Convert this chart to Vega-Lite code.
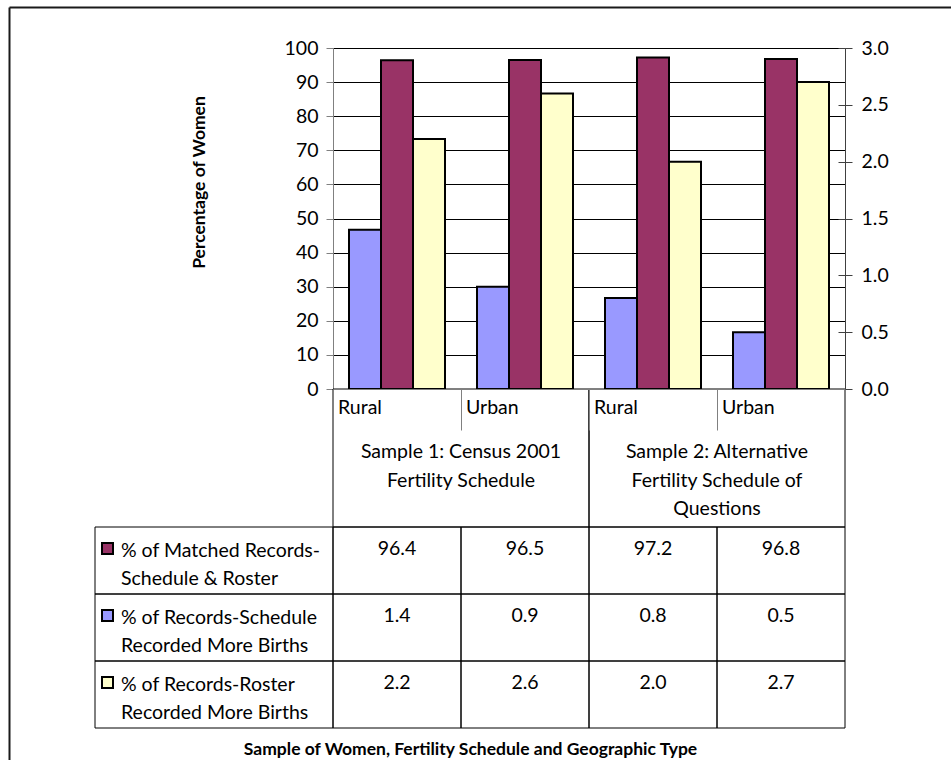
{
  "$schema": "https://vega.github.io/schema/vega-lite/v6.json",
  "autosize": {"type": "none"},
  "padding": {"left": 9, "top": 7, "right": 0, "bottom": 0},
  "width": 942,
  "height": 753,
  "background": "#ffffff",
  "config": {
    "view": {"stroke": null},
    "font": "Lato",
    "text": {"font": "Lato", "fontSize": 19.5, "color": "#000000"},
    "axis": {"labelFont": "Lato", "titleFont": "Lato", "labelColor": "#000000", "titleColor": "#000000", "labelFontSize": 19.5, "titleFontSize": 17.5}
  },
  "datasets": {
    "bars": [
      {"cat": "Rural S1", "series": "Matched", "value": 96.4},
      {"cat": "Urban S1", "series": "Matched", "value": 96.5},
      {"cat": "Rural S2", "series": "Matched", "value": 97.2},
      {"cat": "Urban S2", "series": "Matched", "value": 96.8},
      {"cat": "Rural S1", "series": "Schedule", "value": 1.4},
      {"cat": "Urban S1", "series": "Schedule", "value": 0.9},
      {"cat": "Rural S2", "series": "Schedule", "value": 0.8},
      {"cat": "Urban S2", "series": "Schedule", "value": 0.5},
      {"cat": "Rural S1", "series": "Roster", "value": 2.2},
      {"cat": "Urban S1", "series": "Roster", "value": 2.6},
      {"cat": "Rural S2", "series": "Roster", "value": 2.0},
      {"cat": "Urban S2", "series": "Roster", "value": 2.7}
    ],
    "groups": [
      {"group": "Sample 1", "label": "Sample 1: Census 2001|Fertility Schedule"},
      {"group": "Sample 2", "label": "Sample 2: Alternative|Fertility Schedule of|Questions"}
    ],
    "legend": [
      {"series": "Matched", "label": "% of Matched Records-|Schedule & Roster"},
      {"series": "Schedule", "label": "% of Records-Schedule|Recorded More Births"},
      {"series": "Roster", "label": "% of Records-Roster|Recorded More Births"}
    ],
    "frame": [{"part": "chart area"}]
  },
  "resolve": {
    "scale": {"x": "independent", "y": "independent", "color": "independent", "xOffset": "independent"},
    "axis": {"x": "independent", "y": "independent"}
  },
  "layer": [
    {
      "data": {"name": "frame"},
      "mark": {"type": "rect", "fill": "transparent", "strokeOpacity": 0},
      "encoding": {
        "x": {"datum": "all", "type": "nominal", "scale": {"domain": ["all"], "range": [0, 942], "paddingInner": 0, "paddingOuter": 0},
          "axis": {"orient": "top", "domain": true, "domainColor": "#1a1a1a", "domainWidth": 2, "ticks": false, "labels": false, "grid": false, "title": null}},
        "y": {"datum": "all", "type": "nominal", "scale": {"domain": ["all"], "range": [0, 753], "paddingInner": 0, "paddingOuter": 0},
          "axis": {"orient": "left", "domain": true, "domainColor": "#1a1a1a", "domainWidth": 2, "ticks": false, "labels": false, "grid": false, "title": null}}
      }
    },
    {
      "data": {"name": "bars"},
      "transform": [{"filter": "datum.series === 'Matched'"}],
      "mark": {"type": "bar", "fill": "#993366", "stroke": "#000000", "strokeWidth": 2},
      "encoding": {
        "x": {
          "field": "cat", "type": "nominal", "sort": null,
          "scale": {"domain": ["Rural S1", "Urban S1", "Rural S2", "Urban S2"], "range": [324, 836], "paddingInner": 0, "paddingOuter": 0},
          "axis": {"orient": "bottom", "offset": -371, "title": null, "bandPosition": 0, "tickSize": 41, "tickColor": "#808080", "domainColor": "#808080", "labelExpr": "slice(datum.label, 0, 5)", "labelAlign": "left", "labelBaseline": "top", "labelOffset": -59, "labelPadding": -32, "labelAngle": 0, "labelOverlap": false, "grid": false, "zindex": 1}
        },
        "xOffset": {"field": "series", "type": "nominal", "scale": {"domain": ["Schedule", "Matched", "Roster"], "paddingInner": 0, "paddingOuter": 0.5}},
        "y": {
          "field": "value", "type": "quantitative",
          "scale": {"domain": [0, 100], "range": [382, 41], "nice": false},
          "axis": {"orient": "left", "offset": -324, "values": [0, 10, 20, 30, 40, 50, 60, 70, 80, 90, 100], "tickSize": 7, "tickColor": "#808080", "domainColor": "#808080", "labelPadding": 8, "grid": true, "gridColor": "#000000", "gridOpacity": 1, "gridWidth": 1, "title": "Percentage of Women", "titleFontWeight": "bold", "titleX": -134, "titleY": 175, "titleAngle": -90, "titleAlign": "center", "titleBaseline": "middle"}
        }
      }
    },
    {
      "data": {"name": "bars"},
      "transform": [{"filter": "datum.series !== 'Matched'"}],
      "mark": {"type": "bar", "stroke": "#000000", "strokeWidth": 2},
      "encoding": {
        "x": {
          "field": "cat", "type": "nominal", "sort": null,
          "scale": {"domain": ["Rural S1", "Urban S1", "Rural S2", "Urban S2"], "range": [324, 836], "paddingInner": 0, "paddingOuter": 0},
          "axis": null
        },
        "xOffset": {"field": "series", "type": "nominal", "scale": {"domain": ["Schedule", "Matched", "Roster"], "paddingInner": 0, "paddingOuter": 0.5}},
        "y": {
          "field": "value", "type": "quantitative",
          "scale": {"domain": [0, 3], "range": [382, 41], "nice": false},
          "axis": {"orient": "right", "offset": -106, "values": [0, 0.5, 1, 1.5, 2, 2.5, 3], "format": ".1f", "tickSize": 7, "tickColor": "#404040", "domainColor": "#404040", "labelPadding": 9, "grid": false, "title": null}
        },
        "color": {"field": "series", "type": "nominal", "scale": {"domain": ["Schedule", "Roster"], "range": ["#9999FF", "#FFFFCC"]}, "legend": null}
      }
    },
    {
      "data": {"name": "bars"},
      "transform": [{"filter": "datum.series !== 'Matched'"}],
      "mark": {"type": "bar", "opacity": 0},
      "encoding": {
        "x": {
          "field": "cat", "type": "nominal", "sort": null,
          "scale": {"domain": ["Rural S1", "Urban S1", "Rural S2", "Urban S2"], "range": [324, 836], "paddingInner": 0, "paddingOuter": 0},
          "axis": null
        },
        "y": {
          "field": "value", "type": "quantitative",
          "scale": {"domain": [0, 3], "range": [382, 41], "nice": false},
          "axis": {"orient": "right", "offset": -113, "values": [0, 0.5, 1, 1.5, 2, 2.5, 3], "tickSize": 7, "tickColor": "#404040", "domain": false, "labels": false, "grid": false, "title": null}
        }
      }
    },
    {
      "data": {"name": "groups"},
      "mark": {"type": "rect", "fill": "transparent", "stroke": "#000000", "strokeWidth": 1},
      "encoding": {
        "x": {"field": "group", "type": "nominal", "scale": {"domain": ["Sample 1", "Sample 2"], "range": [324, 836], "paddingInner": 0, "paddingOuter": 0}, "axis": null},
        "y": {"datum": "hdr", "type": "nominal", "scale": {"domain": ["hdr"], "range": [382, 520], "paddingInner": 0, "paddingOuter": 0}, "axis": null}
      }
    },
    {
      "data": {"name": "groups"},
      "mark": {"type": "text", "lineBreak": "|", "align": "center", "baseline": "alphabetic", "dy": 0, "lineHeight": 28.5},
      "encoding": {
        "x": {"field": "group", "type": "nominal", "scale": {"domain": ["Sample 1", "Sample 2"], "range": [324, 836], "paddingInner": 0, "paddingOuter": 0}, "axis": null},
        "y": {"datum": "hdr", "type": "nominal", "scale": {"domain": ["hdr"], "range": [382, 520], "paddingInner": 0, "paddingOuter": 0}, "axis": null},
        "text": {"field": "label"}
      }
    },
    {
      "data": {"name": "bars"},
      "mark": {"type": "rect", "fill": "transparent", "stroke": "#000000", "strokeWidth": 1},
      "encoding": {
        "x": {"field": "cat", "type": "nominal", "scale": {"domain": ["Rural S1", "Urban S1", "Rural S2", "Urban S2"], "range": [324, 836], "paddingInner": 0, "paddingOuter": 0}, "axis": null},
        "y": {"field": "series", "type": "nominal", "scale": {"domain": ["Matched", "Schedule", "Roster"], "range": [520, 721], "paddingInner": 0, "paddingOuter": 0}, "axis": null}
      }
    },
    {
      "data": {"name": "bars"},
      "mark": {"type": "text", "align": "center", "baseline": "alphabetic", "dy": -6},
      "encoding": {
        "x": {"field": "cat", "type": "nominal", "scale": {"domain": ["Rural S1", "Urban S1", "Rural S2", "Urban S2"], "range": [324, 836], "paddingInner": 0, "paddingOuter": 0}, "axis": null},
        "y": {"field": "series", "type": "nominal", "scale": {"domain": ["Matched", "Schedule", "Roster"], "range": [520, 721], "paddingInner": 0, "paddingOuter": 0}, "axis": null},
        "text": {"field": "value", "type": "quantitative", "format": ".1f"}
      }
    },
    {
      "data": {"name": "legend"},
      "mark": {"type": "rect", "fill": "transparent", "stroke": "#000000", "strokeWidth": 1},
      "encoding": {
        "x": {"datum": "legend", "type": "nominal", "scale": {"domain": ["legend"], "range": [86, 324], "paddingInner": 0, "paddingOuter": 0}, "axis": null},
        "y": {"field": "series", "type": "nominal", "scale": {"domain": ["Matched", "Schedule", "Roster"], "range": [520, 721], "paddingInner": 0, "paddingOuter": 0}, "axis": null}
      }
    },
    {
      "data": {"name": "legend"},
      "mark": {"type": "point", "shape": "square", "filled": true, "size": 121, "stroke": "#000000", "strokeWidth": 2, "opacity": 1, "xOffset": -106.5, "yOffset": -12},
      "encoding": {
        "x": {"datum": "legend", "type": "nominal", "scale": {"domain": ["legend"], "range": [86, 324], "paddingInner": 0, "paddingOuter": 0}, "axis": null},
        "y": {"field": "series", "type": "nominal", "scale": {"domain": ["Matched", "Schedule", "Roster"], "range": [520, 721], "paddingInner": 0, "paddingOuter": 0}, "axis": null},
        "color": {"field": "series", "type": "nominal", "scale": {"domain": ["Matched", "Schedule", "Roster"], "range": ["#993366", "#9999FF", "#FFFFCC"]}, "legend": null}
      }
    },
    {
      "data": {"name": "legend"},
      "mark": {"type": "text", "lineBreak": "|", "align": "left", "baseline": "alphabetic", "dx": -93, "dy": -4, "lineHeight": 28},
      "encoding": {
        "x": {"datum": "legend", "type": "nominal", "scale": {"domain": ["legend"], "range": [86, 324], "paddingInner": 0, "paddingOuter": 0}, "axis": null},
        "y": {"field": "series", "type": "nominal", "scale": {"domain": ["Matched", "Schedule", "Roster"], "range": [520, 721], "paddingInner": 0, "paddingOuter": 0}, "axis": null},
        "text": {"field": "label"}
      }
    },
    {
      "data": {"name": "frame"},
      "mark": {"type": "rect", "fill": "transparent", "strokeOpacity": 0},
      "encoding": {
        "x": {"datum": "table", "type": "nominal", "scale": {"domain": ["table"], "range": [86, 836], "paddingInner": 0, "paddingOuter": 0},
          "axis": {"orient": "bottom", "offset": -32, "domain": false, "ticks": false, "labels": false, "title": "Sample of Women, Fertility Schedule and Geographic Type", "titleFontWeight": "bold", "titlePadding": 12}},
        "y": {"datum": "r", "type": "nominal", "scale": {"domain": ["r"], "range": [520, 721], "paddingInner": 0, "paddingOuter": 0}, "axis": null}
      }
    }
  ]
}
